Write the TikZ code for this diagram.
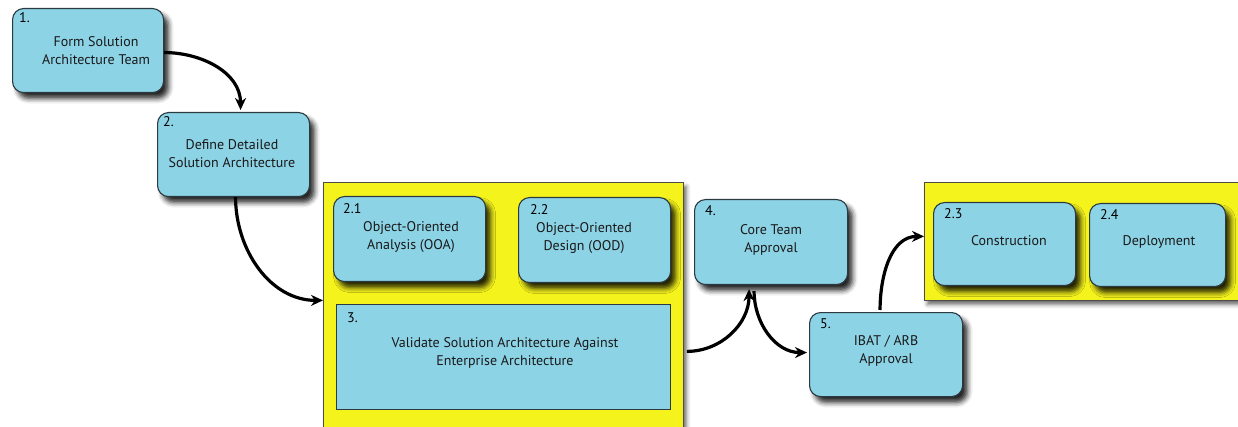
\documentclass[tikz,border=0pt]{standalone}
\usepackage{fontspec}
\setmainfont{PT Sans}
\usetikzlibrary{shadows.blur,arrows.meta}
\definecolor{boxblue}{HTML}{8DD3E6}
\definecolor{cyellow}{HTML}{F5F31C}
\definecolor{edge}{HTML}{2A3A40}
\tikzset{
  stepbox/.style={draw=edge, line width=1.1pt, fill=boxblue, rounded corners=11pt,
    blur shadow={shadow xshift=5pt, shadow yshift=-6pt, shadow blur radius=5pt, shadow opacity=85}},
  flatbox/.style={draw=edge, line width=1.1pt, fill=boxblue},
  container/.style={draw=black!70, line width=0.8pt, fill=cyellow,
    blur shadow={shadow xshift=3pt, shadow yshift=-4pt, shadow blur radius=4pt, shadow opacity=60}},
  num/.style={anchor=north west, font=\fontsize{14}{16}\selectfont, text=black, inner sep=0pt},
  txt/.style={align=center, font=\fontsize{14}{18}\selectfont, text=black!90, inner sep=0pt},
  conn/.style={line width=3.2pt, -{Stealth[length=12pt,width=11pt]}}
}
\begin{document}
\begin{tikzpicture}[x=1pt,y=-1pt]
\useasboundingbox (0,0) rectangle (1238,427);
% containers
\node[container, minimum width=360pt, minimum height=250pt, anchor=north west] (C1) at (323,182) {};
\node[container, minimum width=321pt, minimum height=118pt, anchor=north west] (C2) at (924,182) {};
% boxes
\node[stepbox, minimum width=151pt, minimum height=84pt, anchor=north west] (b1) at (12,8) {};
\node[stepbox, minimum width=152pt, minimum height=84pt, anchor=north west] (b2) at (157,112) {};
\node[stepbox, minimum width=152pt, minimum height=85pt, anchor=north west] (b21) at (333,196) {};
\node[stepbox, minimum width=152pt, minimum height=85pt, anchor=north west] (b22) at (518,197) {};
\node[flatbox, minimum width=334pt, minimum height=105pt, anchor=north west] (b3) at (336,304) {};
\node[stepbox, minimum width=153pt, minimum height=85pt, anchor=north west] (b4) at (694,199) {};
\node[stepbox, minimum width=153pt, minimum height=84pt, anchor=north west] (b5) at (809,312) {};
\node[stepbox, minimum width=142pt, minimum height=83pt, anchor=north west] (b23) at (933,202) {};
\node[stepbox, minimum width=136pt, minimum height=83pt, anchor=north west] (b24) at (1089,203) {};
% numbers
\node[num] (n1) at ([xshift=7pt,yshift=-4pt]b1.north west) {1.};
\node[num] (n2) at ([xshift=6pt,yshift=-4pt]b2.north west) {2.};
\node[num] (n21) at ([xshift=10pt,yshift=-7pt]b21.north west) {2.1};
\node[num] (n22) at ([xshift=12pt,yshift=-7pt]b22.north west) {2.2};
\node[num] (n3) at ([xshift=11pt,yshift=-9pt]b3.north west) {3.};
\node[num] (n4) at ([xshift=11pt,yshift=-6pt]b4.north west) {4.};
\node[num] (n5) at ([xshift=11pt,yshift=-6pt]b5.north west) {5.};
\node[num] (n23) at ([xshift=11pt,yshift=-6pt]b23.north west) {2.3};
\node[num] (n24) at ([xshift=11pt,yshift=-6pt]b24.north west) {2.4};
% texts
\node[txt] (t1) at (96,51) {Form Solution\\Architecture Team};
\node[txt] (t2) at (232,154) {Define Detailed\\Solution Architecture};
\node[txt] (t21) at (411,237) {Object-Oriented\\Analysis (OOA)};
\node[txt] (t22) at (584,238) {Object-Oriented\\Design (OOD)};
\node[txt] (t3) at (505,353) {Validate Solution Architecture Against\\Enterprise Architecture};
\node[txt] (t4) at (771,240) {Core Team\\Approval};
\node[txt] (t5) at (886,351) {IBAT / ARB\\Approval};
\node[txt] (t23) at (1009,241) {Construction};
\node[txt] (t24) at (1159,242) {Deployment};
% connectors
\draw[conn] ([yshift=-2pt]b1.east) to[out=0,in=90] ([xshift=7pt,yshift=2pt]b2.north);
\draw[conn] ([xshift=2pt]b2.south) to[out=-90,in=180] ([yshift=7pt]C1.west);
\draw[conn] ([xshift=3pt,yshift=-44pt]C1.east) to[out=0,in=-90] ([xshift=-22pt,yshift=-4pt]b4.south);
\draw[conn] ([xshift=-17pt,yshift=-6pt]b4.south) to[out=-90,in=180] ([xshift=-2pt,yshift=2pt]b5.west);
\draw[conn] ([xshift=-6pt,yshift=2pt]b5.north) to[out=90,in=180] ([yshift=5pt]C2.west);
\end{tikzpicture}
\end{document}
